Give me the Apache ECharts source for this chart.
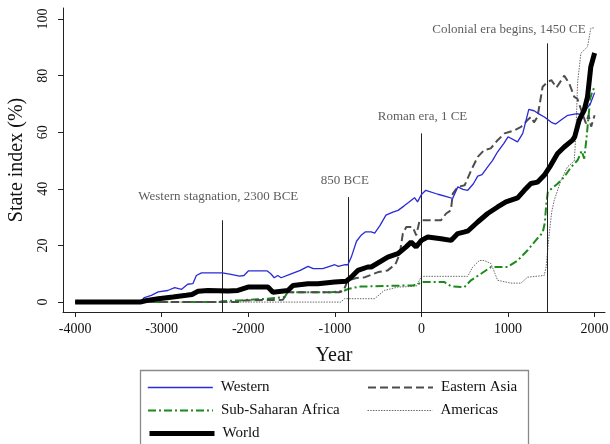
<!DOCTYPE html>
<html>
<head>
<meta charset="utf-8">
<title>State index by region</title>
<script src="https://cdn.jsdelivr.net/npm/echarts@6/dist/echarts.min.js"></script>
<style>
  html, body { margin: 0; padding: 0; background: #fff; }
  #chart { width: 610px; height: 444px; }
</style>
</head>
<body>
<div id="chart"></div>
<script>
// State index (%) by region, [year, value]; negative years are BCE.
const western = [[-4000,0],[-3250,0],[-3200,1.6],[-3120,2.4],[-3040,3.6],[-2930,4.1],[-2850,5.1],[-2770,4.5],[-2700,6.3],[-2640,6.5],[-2600,9.4],[-2540,10.3],[-2300,10.3],[-2200,9.8],[-2100,9.2],[-2050,9.4],[-2000,11.0],[-1780,11.0],[-1740,10.0],[-1700,8.6],[-1660,9.4],[-1620,8.6],[-1520,9.8],[-1400,11.2],[-1310,12.6],[-1250,11.8],[-1140,11.8],[-1000,13.2],[-960,12.6],[-880,13.2],[-850,13.2],[-810,15.9],[-750,21.5],[-700,23.5],[-650,24.8],[-580,24.8],[-540,24.4],[-480,27.0],[-410,30.7],[-330,31.8],[-270,32.4],[-200,34.0],[-150,35.2],[-80,36.9],[-45,35.4],[0,38.0],[50,39.5],[190,38.1],[300,37.2],[360,36.6],[420,40.7],[480,39.8],[535,39.5],[600,41.8],[650,44.5],[700,45.0],[765,47.8],[820,50.0],[880,53.1],[950,56.0],[1000,58.4],[1110,56.6],[1170,59.6],[1240,68.1],[1300,67.6],[1350,66.6],[1420,65.4],[1500,63.5],[1550,62.9],[1620,64.5],[1690,66.0],[1800,66.6],[1860,66.0],[1910,68.4],[1950,70.0],[2000,74.0]];

const easternAsia = [[-4000,0],[-2100,0],[-2050,0.6],[-1600,0.8],[-1550,3.5],[-950,3.5],[-900,4.0],[-850,7.7],[-750,8.5],[-650,8.8],[-500,10.6],[-390,11.2],[-300,13.4],[-250,17.1],[-215,24.2],[-175,26.5],[-100,26.5],[-60,23.6],[-25,28.3],[0,28.9],[225,28.9],[285,31.3],[340,32.4],[362,38.3],[420,40.7],[500,41.3],[575,46.6],[650,51.3],[725,53.7],[800,54.3],[880,57.2],[960,59.6],[1075,60.7],[1150,61.9],[1225,64.3],[1265,65.4],[1300,63.5],[1340,65.4],[1400,76.1],[1460,77.8],[1500,78.4],[1560,75.8],[1650,80.0],[1710,77.0],[1765,72.5],[1800,71.9],[1860,66.6],[1900,63.1],[1930,66.0],[1960,62.0],[2000,66.0]];

const subSaharanAfrica = [[-4000,0],[-2350,0],[-2300,0.3],[-2100,0.6],[-1900,1.0],[-1780,1.2],[-1580,1.8],[-1545,3.5],[-1040,3.5],[-900,3.9],[-850,4.6],[-780,5.1],[-700,5.5],[-100,5.9],[-40,6.3],[0,7.1],[265,7.1],[300,6.3],[342,5.6],[496,5.3],[572,7.7],[688,10.0],[803,12.4],[996,12.4],[1111,14.7],[1226,18.3],[1342,22.6],[1400,24.5],[1425,28.0],[1440,34.0],[1460,39.0],[1500,40.0],[1572,41.8],[1649,44.2],[1726,47.6],[1803,50.1],[1850,53.4],[1880,50.7],[1905,57.5],[1925,64.0],[1950,72.0],[1975,74.5],[2000,76.0]];

const americas = [[-4000,0],[-930,0],[-890,1.2],[-540,1.2],[-430,4.1],[-273,5.3],[-60,5.6],[0,9.1],[534,9.1],[592,12.4],[669,14.7],[726,14.7],[803,13.6],[850,10.0],[880,7.7],[1034,6.7],[1149,6.7],[1226,8.8],[1418,9.4],[1440,12.4],[1476,24.2],[1505,32.0],[1534,36.0],[1611,43.0],[1687,47.8],[1765,49.8],[1784,59.6],[1803,77.3],[1841,87.9],[1918,90.2],[1956,96.7],[2000,97.0]];

const world = [[-4000,0],[-3250,0],[-3200,0.4],[-3150,0.7],[-3040,1.2],[-2870,1.8],[-2715,2.4],[-2650,2.7],[-2580,3.8],[-2465,4.1],[-2234,3.9],[-2120,4.1],[-2003,5.3],[-1773,5.3],[-1715,3.5],[-1542,4.1],[-1484,5.9],[-1311,6.5],[-1196,6.5],[-1003,7.1],[-869,7.4],[-812,8.8],[-735,11.2],[-620,12.4],[-580,12.4],[-389,15.9],[-273,17.1],[-177,19.5],[-120,21.2],[-62,19.5],[0,21.8],[73,23.0],[226,22.4],[342,21.8],[419,24.2],[500,24.8],[540,25.2],[650,28.3],[765,31.3],[880,33.6],[976,35.4],[1111,36.8],[1188,39.5],[1264,41.9],[1342,42.4],[1418,44.8],[1495,48.4],[1572,52.5],[1649,54.8],[1745,57.2],[1770,58.4],[1822,64.3],[1880,67.8],[1918,72.5],[1956,83.1],[2000,88.0]];

// Vertical reference lines for historical events
const eventYears = [-2300, -850, 1, 1450];
const eventTops = [28.9, 37.1, 59.6, 91.4];
const eventLabels = ['Western stagnation, 2300 BCE', '850 BCE', 'Roman era, 1 CE', 'Colonial era begins, 1450 CE'];

const xTicks = [-4000, -3000, -2000, -1000, 0, 1000, 2000];
const yTicks = [0, 20, 40, 60, 80, 100];

const X_MIN = -4140, X_MAX = 2120;
const Y_MIN = -3.5, Y_MAX = 103.9;

const serif = 'Liberation Serif';

// series styling (legendWidth: stroke used for the legend sample)
const styles = {
  'Western': { color: '#2a2ad6', width: 1.3, legendWidth: 1.6, dash: 'solid' },
  'Eastern Asia': { color: '#4d4d4d', width: 2, legendWidth: 2, dash: [8, 4] },
  'Sub-Saharan Africa': { color: '#1c8a1c', width: 2, legendWidth: 2, dash: [8, 3, 2, 3] },
  'Americas': { color: '#6a6a6a', width: 1, legendWidth: 1, dash: [1.5, 1.2] },
  'World': { color: '#000000', width: 5, legendWidth: 5, dash: 'solid' }
};

const chart = echarts.init(document.getElementById('chart'), null, { renderer: 'canvas' });

function lineSeries(name, data, z) {
  const s = styles[name];
  return {
    name: name,
    type: 'line',
    data: data,
    symbol: 'none',
    showSymbol: false,
    z: z,
    lineStyle: { color: s.color, width: s.width, type: s.dash },
    itemStyle: { color: s.color },
    emphasis: { disabled: true }
  };
}

// label placement per event (above the line top; the last one sits left of its line)
const labelTweaks = [
  { distance: 17, offset: [-4, 0] },
  { distance: 10, offset: [-3, 0] },
  { distance: 10, offset: [1, 0] },
  { distance: 7, offset: [-38, 0] }
];

const eventSeries = {
  name: 'events',
  type: 'scatter',
  z: 1,
  symbolSize: 1,
  itemStyle: { color: 'rgba(0,0,0,0)' },
  silent: true,
  data: eventYears.map((yr, i) => ({
    value: [yr, eventTops[i]],
    label: {
      show: true,
      position: 'top',
      distance: labelTweaks[i].distance,
      offset: labelTweaks[i].offset,
      formatter: eventLabels[i],
      fontFamily: serif,
      fontSize: 13,
      color: '#333'
    }
  })),
  markLine: {
    silent: true,
    symbol: 'none',
    animation: false,
    label: { show: false },
    lineStyle: { color: '#222', width: 1, type: 'solid' },
    data: eventYears.map((yr, i) => [{ coord: [yr, Y_MIN] }, { coord: [yr, eventTops[i]] }])
  }
};

// Legend: two columns, one entry per legend component so rows line up
const legendEntries = [
  { name: 'Western', left: 147, top: 380 },
  { name: 'Eastern Asia', left: 367, top: 380 },
  { name: 'Sub-Saharan Africa', left: 147, top: 403 },
  { name: 'Americas', left: 367, top: 403 },
  { name: 'World', left: 147, top: 426 }
];

const legends = legendEntries.map((e) => {
  const s = styles[e.name];
  return {
    data: [e.name],
    left: e.left,
    top: e.top,
    orient: 'horizontal',
    padding: 0,
    itemWidth: 65,
    itemHeight: 14,
    selectedMode: false,
    itemStyle: { opacity: 0 },
    lineStyle: { color: s.color, width: s.legendWidth, type: s.dash },
    textStyle: { fontFamily: serif, fontSize: 15, color: '#111', padding: [0, 0, 0, 3] }
  };
});

const plainNumber = (v) => String(v);

const option = {
  animation: false,
  backgroundColor: '#fff',
  grid: { left: 63, right: 5, top: 8, bottom: 132, containLabel: false, outerBoundsMode: 'none' },
  xAxis: {
    type: 'value',
    min: X_MIN,
    max: X_MAX,
    name: 'Year',
    nameLocation: 'middle',
    nameGap: 34,
    nameTextStyle: { fontFamily: serif, fontSize: 20, color: '#111' },
    axisLine: { show: true, onZero: false, lineStyle: { color: '#222', width: 1 } },
    axisTick: { show: true, length: 5, customValues: xTicks, lineStyle: { color: '#222' } },
    axisLabel: { customValues: xTicks, formatter: plainNumber, margin: 10, fontFamily: serif, fontSize: 14, color: '#111' },
    splitLine: { show: false }
  },
  yAxis: {
    type: 'value',
    min: Y_MIN,
    max: Y_MAX,
    name: 'State index (%)',
    nameLocation: 'middle',
    nameRotate: 90,
    nameGap: 36,
    nameTextStyle: { fontFamily: serif, fontSize: 20, color: '#111' },
    axisLine: { show: true, onZero: false, lineStyle: { color: '#222', width: 1 } },
    axisTick: { show: true, length: 5, customValues: yTicks, lineStyle: { color: '#222' } },
    axisLabel: { customValues: yTicks, formatter: plainNumber, rotate: 90, margin: 13, fontFamily: serif, fontSize: 14, color: '#111' },
    splitLine: { show: false }
  },
  legend: legends,
  graphic: [
    {
      type: 'rect',
      silent: true,
      shape: { x: 140.5, y: 370.5, width: 388, height: 100 },
      style: { fill: 'none', stroke: '#8a8a8a', lineWidth: 1.3 }
    }
  ],
  series: [
    eventSeries,
    lineSeries('Americas', americas, 2),
    lineSeries('Sub-Saharan Africa', subSaharanAfrica, 3),
    lineSeries('Eastern Asia', easternAsia, 4),
    lineSeries('Western', western, 5),
    lineSeries('World', world, 6)
  ]
};

chart.setOption(option);
</script>
</body>
</html>
